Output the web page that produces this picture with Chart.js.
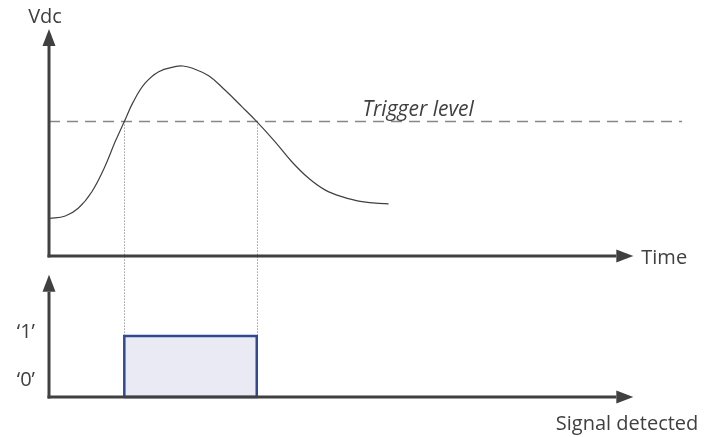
<!DOCTYPE html>
<html>
<head>
<meta charset="utf-8">
<script src="https://cdn.jsdelivr.net/npm/chart.js@4"></script>
<style>
  html, body { margin: 0; padding: 0; background: #ffffff; }
  #wrap { width: 713px; height: 437px; }
</style>
</head>
<body>
<div id="wrap"><canvas id="diagram" width="713" height="437"></canvas></div>
<script>
// pulse (time in arbitrary units, Vdc in arbitrary units)
const TIME = [0, 2.5, 4.5, 6.6, 8.6, 10.2, 11.6, 13.0, 14.8, 16.9, 19.4, 20.6, 22.0, 24.6, 27.1, 29.7, 32.0, 34.8, 37.4, 40.0, 42.5, 45.1, 48.2, 52.3];
const VDC = [1.65, 1.76, 2.10, 2.83, 3.93, 5.04, 5.92, 6.80, 7.61, 8.12, 8.34, 8.37, 8.28, 7.94, 7.31, 6.58, 5.92, 5.04, 4.15, 3.42, 2.91, 2.61, 2.39, 2.29];

const TRIGGER = 5.92;
const TRIGGER_TIME = [0, 97.5];

// detector output: '0' / '1'
const SIGNAL_TIME = [11.6, 11.6, 32.0, 32.0, 11.6];
const SIGNAL_LEVEL = [0, 1, 1, 0, 0];
const CROSSINGS = [11.6, 32.0];
const LEVEL_LABELS = ["\u20180\u2019", "\u20181\u2019"];

// axis extents
const TIME_AXIS_END = 90;
const VDC_AXIS_TOP = 10;
const SIGNAL_AXIS_TOP = 2.0;

const INK = "#404040";
const FONT = '"Open Sans", "DejaVu Sans", sans-serif';

function arrow(ctx, x0, y0, x1, y1) {
  const len = 17;
  const half = 6.5;
  const ang = Math.atan2(y1 - y0, x1 - x0);
  const bx = x1 - len * Math.cos(ang);
  const by = y1 - len * Math.sin(ang);
  ctx.beginPath();
  ctx.moveTo(x0, y0);
  ctx.lineTo(bx, by);
  ctx.stroke();
  ctx.beginPath();
  ctx.moveTo(x1, y1);
  ctx.lineTo(bx + half * Math.sin(ang), by - half * Math.cos(ang));
  ctx.lineTo(bx - half * Math.sin(ang), by + half * Math.cos(ang));
  ctx.closePath();
  ctx.fill();
}

const guides = {
  id: "guides",
  beforeDatasetsDraw(chart) {
    const { ctx, scales: { x, yTop, yBot } } = chart;
    ctx.save();
    ctx.strokeStyle = "#6e6e6e";
    ctx.lineWidth = 1;
    ctx.setLineDash([1, 2]);
    CROSSINGS.forEach((t) => {
      const px = Math.round(x.getPixelForValue(t)) + 0.5;
      ctx.beginPath();
      ctx.moveTo(px, yTop.getPixelForValue(TRIGGER));
      ctx.lineTo(px, yBot.getPixelForValue(1));
      ctx.stroke();
    });
    ctx.restore();
  },
  afterDatasetsDraw(chart) {
    const { ctx, scales: { x, yTop, yBot } } = chart;
    const x0 = x.getPixelForValue(0);
    const xEnd = x.getPixelForValue(TIME_AXIS_END);
    const topBase = yTop.getPixelForValue(0);
    const topTip = yTop.getPixelForValue(VDC_AXIS_TOP);
    const botBase = yBot.getPixelForValue(0);
    const botTip = yBot.getPixelForValue(SIGNAL_AXIS_TOP);

    ctx.save();
    ctx.strokeStyle = INK;
    ctx.fillStyle = INK;
    ctx.lineWidth = 3;
    arrow(ctx, x0, topBase + 1.5, x0, topTip);
    arrow(ctx, x0 - 1.5, topBase, xEnd, topBase);
    arrow(ctx, x0, botBase + 1.5, x0, botTip);
    arrow(ctx, x0 - 1.5, botBase, xEnd, botBase);

    ctx.fillStyle = INK;
    ctx.font = `20px ${FONT}`;
    ctx.textBaseline = "middle";
    ctx.textAlign = "center";
    ctx.fillText("Vdc", x0 - 4, topTip - 12);
    ctx.textAlign = "left";
    ctx.fillText("Time", xEnd + 8, topBase + 2);
    ctx.textAlign = "right";
    ctx.fillText("Signal detected", xEnd + 65, botBase + 27);
    ctx.fillText(LEVEL_LABELS[1], x0 - 14, yBot.getPixelForValue(1) - 4);
    ctx.fillText(LEVEL_LABELS[0], x0 - 14, yBot.getPixelForValue(0) - 17);

    ctx.font = `italic 21px ${FONT}`;
    ctx.textAlign = "left";
    ctx.textBaseline = "alphabetic";
    ctx.fillText("Trigger level", x.getPixelForValue(48.3), yTop.getPixelForValue(TRIGGER) - 6);
    ctx.restore();
  }
};

new Chart(document.getElementById("diagram"), {
  type: "line",
  data: {
    datasets: [
      {
        label: "Vdc",
        data: TIME.map((t, i) => ({ x: t, y: VDC[i] })),
        yAxisID: "yTop",
        borderColor: INK,
        borderWidth: 1.2,
        pointRadius: 0,
        tension: 0.4,
        fill: false,
        clip: false
      },
      {
        label: "Trigger level",
        data: TRIGGER_TIME.map((t) => ({ x: t, y: TRIGGER })),
        yAxisID: "yTop",
        borderColor: "#878787",
        borderWidth: 1.5,
        borderDash: [11, 7],
        pointRadius: 0,
        fill: false,
        clip: false
      },
      {
        label: "Signal detected",
        data: SIGNAL_TIME.map((t, i) => ({ x: t, y: SIGNAL_LEVEL[i] })),
        yAxisID: "yBot",
        borderColor: "#2f4a8e",
        backgroundColor: "#e9eaf4",
        borderWidth: 2.5,
        pointRadius: 0,
        tension: 0,
        fill: "shape",
        clip: false
      }
    ]
  },
  options: {
    responsive: false,
    devicePixelRatio: 1,
    animation: false,
    events: [],
    layout: { padding: { left: 49, right: 31, top: 29, bottom: 40 } },
    scales: {
      x: { type: "linear", min: 0, max: 97.5, display: false },
      yTop: {
        type: "linear",
        position: "left",
        stack: "panels",
        stackWeight: 236,
        weight: 1,
        min: -0.4,
        max: 10,
        display: false
      },
      yBot: {
        type: "linear",
        position: "left",
        stack: "panels",
        stackWeight: 132,
        weight: 0,
        min: 0,
        max: 2.16,
        display: false
      }
    },
    plugins: {
      legend: { display: false },
      tooltip: { enabled: false }
    }
  },
  plugins: [guides]
});
</script>
</body>
</html>
